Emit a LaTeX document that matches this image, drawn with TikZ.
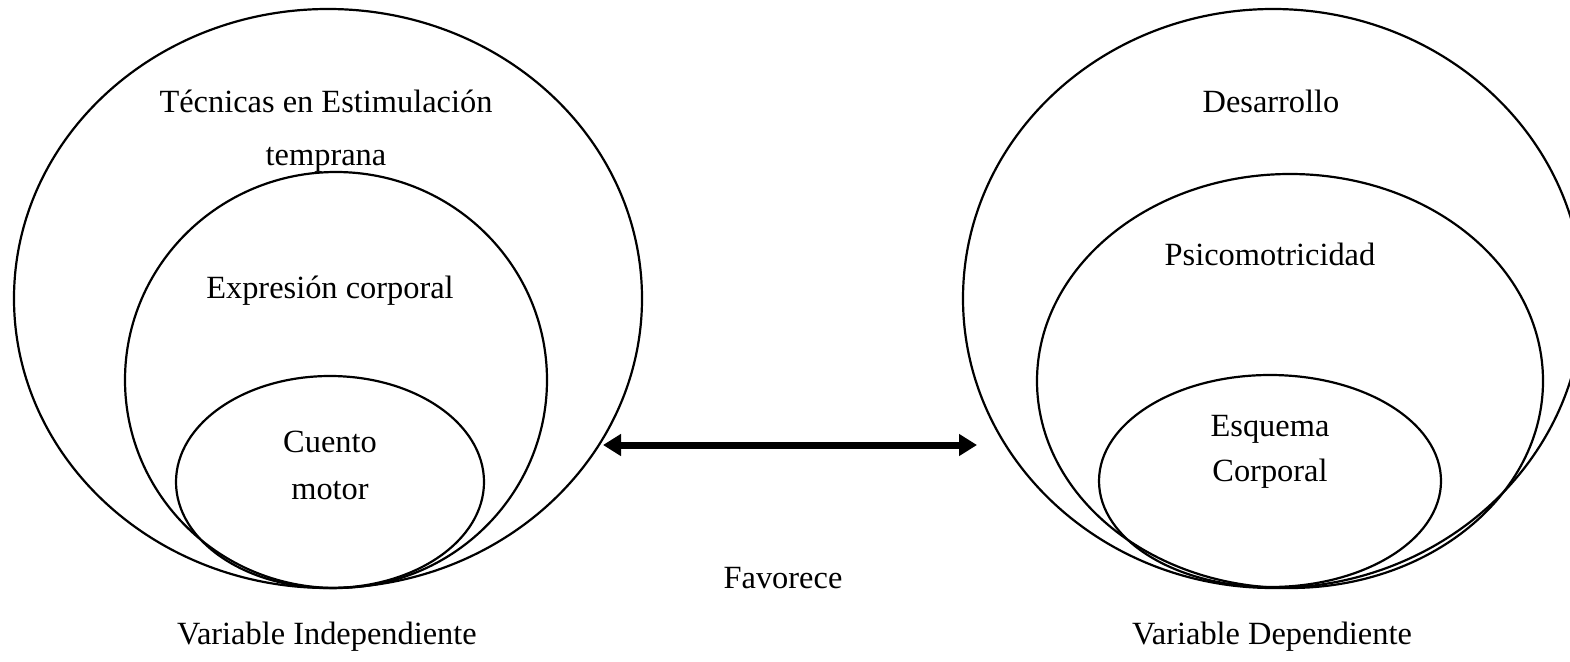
\documentclass[tikz,border=0pt]{standalone}
\usepackage{fontspec}
\setmainfont{Liberation Serif}
\usetikzlibrary{shapes.geometric,arrows.meta}
\tikzset{
  ring/.style={draw, ellipse, line width=2.2pt, inner sep=0pt},
  lbl/.style={inner sep=0pt, anchor=base, font=\fontsize{32.4}{38}\selectfont},
  link/.style={line width=7pt, {Triangle[length=18pt,width=21pt]}-{Triangle[length=18pt,width=21pt]}}
}
\begin{document}
\begin{tikzpicture}[x=1pt,y=-1pt]
\useasboundingbox (0,0) rectangle (1570,661);
% left group
\node[ring, minimum width=628pt, minimum height=579pt] (lo) at (328,298.5) {};
\node[ring, minimum width=422pt, minimum height=416pt] (lm) at (336,380) {};
\node[ring, minimum width=308pt, minimum height=212pt] (li) at (330,482) {};
% right group
\node[ring, minimum width=620pt, minimum height=579pt] (ro) at (1273,298.5) {};
\node[ring, minimum width=506pt, minimum height=414pt] (rm) at (1290,381) {};
\node[ring, minimum width=342pt, minimum height=212pt] (ri) at (1270,481) {};
% labels
\node[lbl] (t1) at (326,112) {Técnicas en Estimulación};
\node[lbl] (t2) at (326,165) {temprana};
\node[lbl] (t3) at (330,298) {Expresión corporal};
\node[lbl] (t4) at (330,452) {Cuento};
\node[lbl] (t5) at (330,499) {motor};
\node[lbl] (d1) at (1271,112) {Desarrollo};
\node[lbl] (d2) at (1270,265) {Psicomotricidad};
\node[lbl] (d3) at (1270,436) {Esquema};
\node[lbl] (d4) at (1270,481) {Corporal};
\node[lbl] (fav) at (783,588) {Favorece};
\node[lbl] (vi) at (327,644) {Variable Independiente};
\node[lbl] (vd) at (1272,644) {Variable Dependiente};
% arrow
\coordinate (aL) at (603,445);
\coordinate (aR) at (977,445);
\draw[link] (aL) -- (aR);
\end{tikzpicture}
\end{document}
